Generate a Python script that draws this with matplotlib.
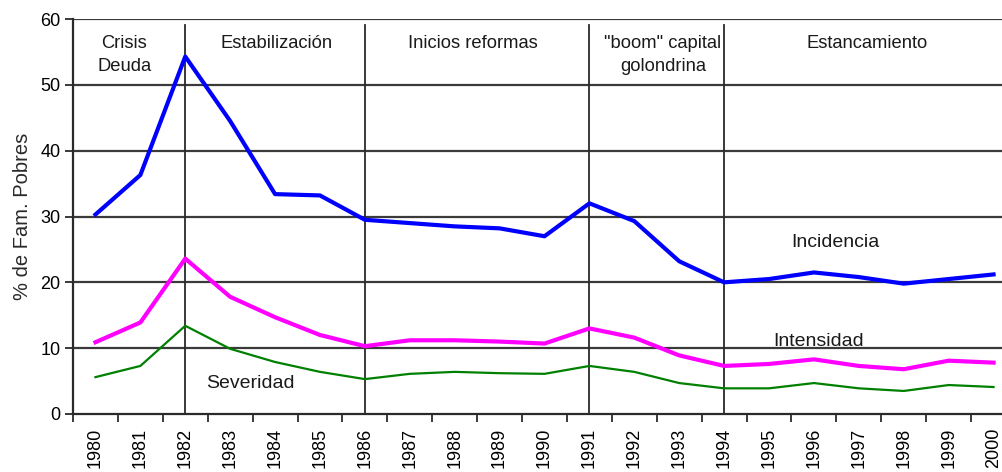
import matplotlib
matplotlib.use("Agg")
import matplotlib.pyplot as plt

plt.rcParams['font.family'] = ['Liberation Sans', 'DejaVu Sans']

years = list(range(1980, 2001))
incidencia = [30.3, 36.3, 54.3, 44.5, 33.4, 33.2, 29.5, 29.0, 28.5, 28.2, 27.0,
              32.0, 29.3, 23.2, 20.0, 20.5, 21.5, 20.8, 19.8, 20.5, 21.2]
intensidad = [10.9, 13.9, 23.6, 17.8, 14.7, 12.0, 10.3, 11.2, 11.2, 11.0, 10.7,
              13.0, 11.6, 8.9, 7.3, 7.6, 8.3, 7.3, 6.8, 8.1, 7.8]
severidad = [5.6, 7.3, 13.4, 9.9, 7.9, 6.4, 5.3, 6.1, 6.4, 6.2, 6.1,
             7.3, 6.4, 4.7, 3.9, 3.9, 4.7, 3.9, 3.5, 4.4, 4.1]
period_breaks = [1982, 1986, 1991, 1994]
period_labels = ["Crisis\nDeuda", "Estabilización", "Inicios reformas",
                 "\"boom\" capital\ngolondrina", "Estancamiento"]
period_label_x = [1980.64, 1984.04, 1988.4, 1992.64, 1997.18]
yticks = [0, 10, 20, 30, 40, 50, 60]

fig = plt.figure(figsize=(10.03, 4.72), dpi=100)
ax = fig.add_axes([73/1003, 1 - 414/472, (1016 - 73)/1003, (414 - 19)/472])

ax.set_xlim(1979.5, 2000.5)
ax.set_ylim(0, 60)

for y in yticks[1:]:
    ax.axhline(y, color='#3a3a3a', lw=1.6, zorder=1)
for xb in period_breaks:
    ax.plot([xb, xb], [0, 59.1], color='#2a2a2a', lw=1.3, zorder=1)

ax.plot(years, incidencia, color='#0000FF', lw=3.0, zorder=3)
ax.plot(years, intensidad, color='#FF00FF', lw=3.0, zorder=3)
ax.plot(years, severidad, color='#008000', lw=1.6, zorder=3)

for lbl, xl in zip(period_labels, period_label_x):
    ax.text(xl, 57.6, lbl, ha='center', va='top', fontsize=13.2,
            color='#1a1a1a', linespacing=1.5)

ax.text(1996.47, 26.0, "Incidencia", ha='center', va='center', fontsize=14, color='#1a1a1a')
ax.text(1996.1, 11.0, "Intensidad", ha='center', va='center', fontsize=14, color='#1a1a1a')
ax.text(1983.46, 4.7, "Severidad", ha='center', va='center', fontsize=14, color='#1a1a1a')

ax.set_yticks(yticks)
ax.set_yticklabels([str(v) for v in yticks], fontsize=13)
ax.set_xticks(years)
ax.set_xticklabels([str(y) for y in years], rotation=90, fontsize=13)
ax.set_xticks([y + 0.5 for y in [1979] + years], minor=True)
ax.tick_params(axis='x', which='major', length=0, pad=10)
ax.tick_params(axis='x', which='minor', length=6, width=1.3, color='#2a2a2a')
ax.tick_params(axis='y', length=6, width=1.3, color='#2a2a2a', pad=3)

for s in ['top', 'right']:
    ax.spines[s].set_visible(False)
ax.spines['left'].set_color('#2a2a2a')
ax.spines['left'].set_linewidth(1.6)
ax.spines['bottom'].set_color('#2a2a2a')
ax.spines['bottom'].set_linewidth(1.6)

ax.set_ylabel("% de Fam. Pobres", fontsize=14.5, labelpad=6, color='#2a2a2a')

fig.savefig("out.png", dpi=100)
